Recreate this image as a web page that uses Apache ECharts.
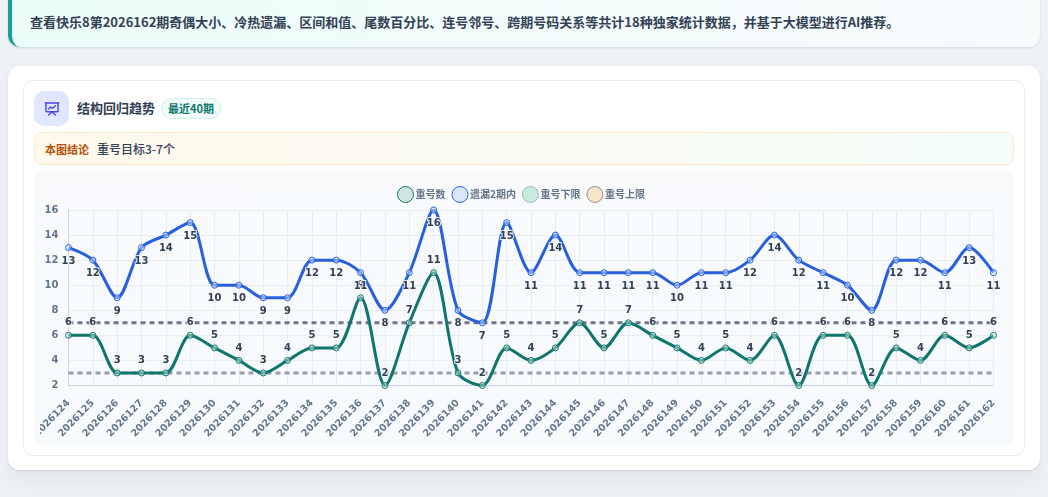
<!DOCTYPE html>
<html lang="zh">
<head>
<meta charset="utf-8">
<script src="https://cdn.jsdelivr.net/npm/echarts@6/dist/echarts.min.js"></script>
<style>
*{box-sizing:border-box;margin:0;padding:0}
html,body{width:1048px;height:497px;overflow:hidden;background:#eef2f6;font-family:"Noto Sans CJK SC","Noto Sans",sans-serif}
.abs{position:absolute}
#banner{left:8px;top:-14px;width:1032px;height:60.5px;border-left:4px solid #14a396;border-radius:12px;background:linear-gradient(90deg,#ecfdf9,#f8fafc);box-shadow:0 1px 2px rgba(15,23,42,.12);color:#334155;font-size:13px;font-weight:700;padding:22px 0 0 18px;line-height:28px;white-space:nowrap}
#card{left:8px;top:65.5px;width:1032px;height:404.5px;background:#fff;border-radius:12px;box-shadow:0 1px 2px rgba(15,23,42,.10),0 10px 24px rgba(15,23,42,.05)}
#inner{left:23px;top:80px;width:1002px;height:375.5px;background:#fff;border:1px solid #e6ebf1;border-radius:10px}
#iconbox{left:34px;top:91px;width:35px;height:35px;background:#e0e7ff;border-radius:10px;display:flex;align-items:center;justify-content:center}
#title{left:77px;top:97px;font-size:13px;line-height:22px;font-weight:700;color:#334155}
#badge{left:161px;top:98px;width:60px;height:21px;border:1px solid #d1f0e8;background:#f0fdfa;border-radius:11px;color:#0f766e;font-size:11px;font-weight:700;line-height:19px;text-align:center}
#concl{left:34px;top:132px;width:980px;height:33px;border:1px solid #fde9c4;border-radius:8px;background:linear-gradient(90deg,#fff8ec,#f4fdf9)}
#cl1{left:45px;top:139px;font-size:11px;line-height:20px;font-weight:700;color:#b45309}
#cl2{left:97px;top:139px;font-size:12px;line-height:20px;font-weight:500;color:#334155}
#chartbg{left:34px;top:171px;width:980px;height:274px;border-radius:10px;background:linear-gradient(180deg,#f8fafc,#f8fbfe)}
#chart{left:40px;top:176px;width:968px;height:266px}
</style>
</head>
<body>
<div class="abs" id="banner">查看快乐8第2026162期奇偶大小、冷热遗漏、区间和值、尾数百分比、连号邻号、跨期号码关系等共计18种独家统计数据，并基于大模型进行AI推荐。</div>
<div class="abs" id="card"></div>
<div class="abs" id="inner"></div>
<div class="abs" id="iconbox"><svg width="16" height="16" viewBox="0 0 24 24" fill="none" stroke="#4f46e5" stroke-width="2.2" stroke-linecap="round" stroke-linejoin="round"><path d="M2 3h20"/><path d="M3 3v12a1 1 0 0 0 1 1h16a1 1 0 0 0 1-1V3"/><path d="m7 21 5-5 5 5"/><path d="M7 12l3-3 3 2 4-4"/></svg></div>
<div class="abs" id="title">结构回归趋势</div>
<div class="abs" id="badge">最近40期</div>
<div class="abs" id="concl"></div>
<div class="abs" id="cl1">本图结论</div>
<div class="abs" id="cl2">重号目标3-7个</div>
<div class="abs" id="chartbg"></div>
<div class="abs" id="chart"></div>
<script>
const categories = ['2026124','2026125','2026126','2026127','2026128','2026129','2026130','2026131','2026132','2026133','2026134','2026135','2026136','2026137','2026138','2026139','2026140','2026141','2026142','2026143','2026144','2026145','2026146','2026147','2026148','2026149','2026150','2026151','2026152','2026153','2026154','2026155','2026156','2026157','2026158','2026159','2026160','2026161','2026162'];
const repeatCount = [6,6,3,3,3,6,5,4,3,4,5,5,9,2,7,11,3,2,5,4,5,7,5,7,6,5,4,5,4,6,2,6,6,2,5,4,6,5,6];
const missWithin2 = [13,12,9,13,14,15,10,10,9,9,12,12,11,8,11,16,8,7,15,11,14,11,11,11,11,10,11,11,12,14,12,11,10,8,12,12,11,13,11];
const lowerLimit = [3,3,3,3,3,3,3,3,3,3,3,3,3,3,3,3,3,3,3,3,3,3,3,3,3,3,3,3,3,3,3,3,3,3,3,3,3,3,3];
const upperLimit = [7,7,7,7,7,7,7,7,7,7,7,7,7,7,7,7,7,7,7,7,7,7,7,7,7,7,7,7,7,7,7,7,7,7,7,7,7,7,7];
const FONT = '"DejaVu Sans"';
const labelStyle = (pos,dist) => ({show:true,position:pos,distance:dist,fontFamily:FONT,fontSize:10,fontWeight:'bold',color:'#334155',textBorderColor:'rgba(248,250,252,.85)',textBorderWidth:2});
const chart = echarts.init(document.getElementById('chart'),null,{renderer:'canvas'});
chart.setOption({
  animation:false,
  backgroundColor:'transparent',
  legend:{
    top:5,left:352,itemWidth:16,itemHeight:16,itemGap:6,
    textStyle:{color:'#64748b',fontSize:10,fontWeight:700,fontFamily:'"Noto Sans CJK SC"',padding:[0,0,0,-3]},
    data:[
      {name:'重号数',icon:'circle',itemStyle:{color:'#cfe3df',borderColor:'#0f766e',borderWidth:1},lineStyle:{opacity:0}},
      {name:'遗漏2期内',icon:'circle',itemStyle:{color:'#dbe6fb',borderColor:'#2563eb',borderWidth:1},lineStyle:{opacity:0}},
      {name:'重号下限',icon:'circle',itemStyle:{color:'#c8ebdf',borderColor:'#9fb8b4',borderWidth:1},lineStyle:{opacity:0}},
      {name:'重号上限',icon:'circle',itemStyle:{color:'#f8e6c8',borderColor:'#8f8f98',borderWidth:1},lineStyle:{opacity:0}}
    ]
  },
  grid:{left:28.5,right:14.5,top:34,bottom:56.5,containLabel:false,outerBoundsMode:'none'},
  xAxis:{
    type:'category',data:categories,boundaryGap:false,
    axisLine:{lineStyle:{color:'#cbd5e1'}},
    axisTick:{show:false},
    splitLine:{show:true,lineStyle:{color:'#e8edf3'}},
    axisLabel:{rotate:46,interval:0,margin:16,fontFamily:FONT,fontSize:9.7,fontWeight:'bold',color:'#64748b'}
  },
  yAxis:{
    type:'value',min:2,max:16,interval:2,
    axisLine:{show:true,lineStyle:{color:'#cbd5e1'}},
    axisTick:{show:false},
    splitLine:{lineStyle:{color:'#e8edf3'}},
    axisLabel:{margin:10,fontFamily:FONT,fontSize:10,fontWeight:'bold',color:'#64748b'}
  },
  series:[
    {name:'重号数',type:'line',data:repeatCount,smooth:0.3,symbol:'circle',symbolSize:6,
     lineStyle:{color:'#0f766e',width:3},itemStyle:{color:'rgba(207,232,225,.45)',borderColor:'#0f766e',borderWidth:1},label:labelStyle('top',4),z:3},
    {name:'遗漏2期内',type:'line',data:missWithin2,smooth:0.3,symbol:'circle',symbolSize:6,
     lineStyle:{color:'#2760dc',width:3},itemStyle:{color:'rgba(219,234,254,.45)',borderColor:'#2760dc',borderWidth:1},label:labelStyle('bottom',5),z:3},
    {name:'重号下限',type:'line',data:lowerLimit,symbol:'none',lineStyle:{color:'#9a9cb2',width:3,type:[5,4]},z:2},
    {name:'重号上限',type:'line',data:upperLimit,symbol:'none',lineStyle:{color:'#73748c',width:3,type:[5,4]},z:2}
  ]
});
</script>
</body>
</html>
